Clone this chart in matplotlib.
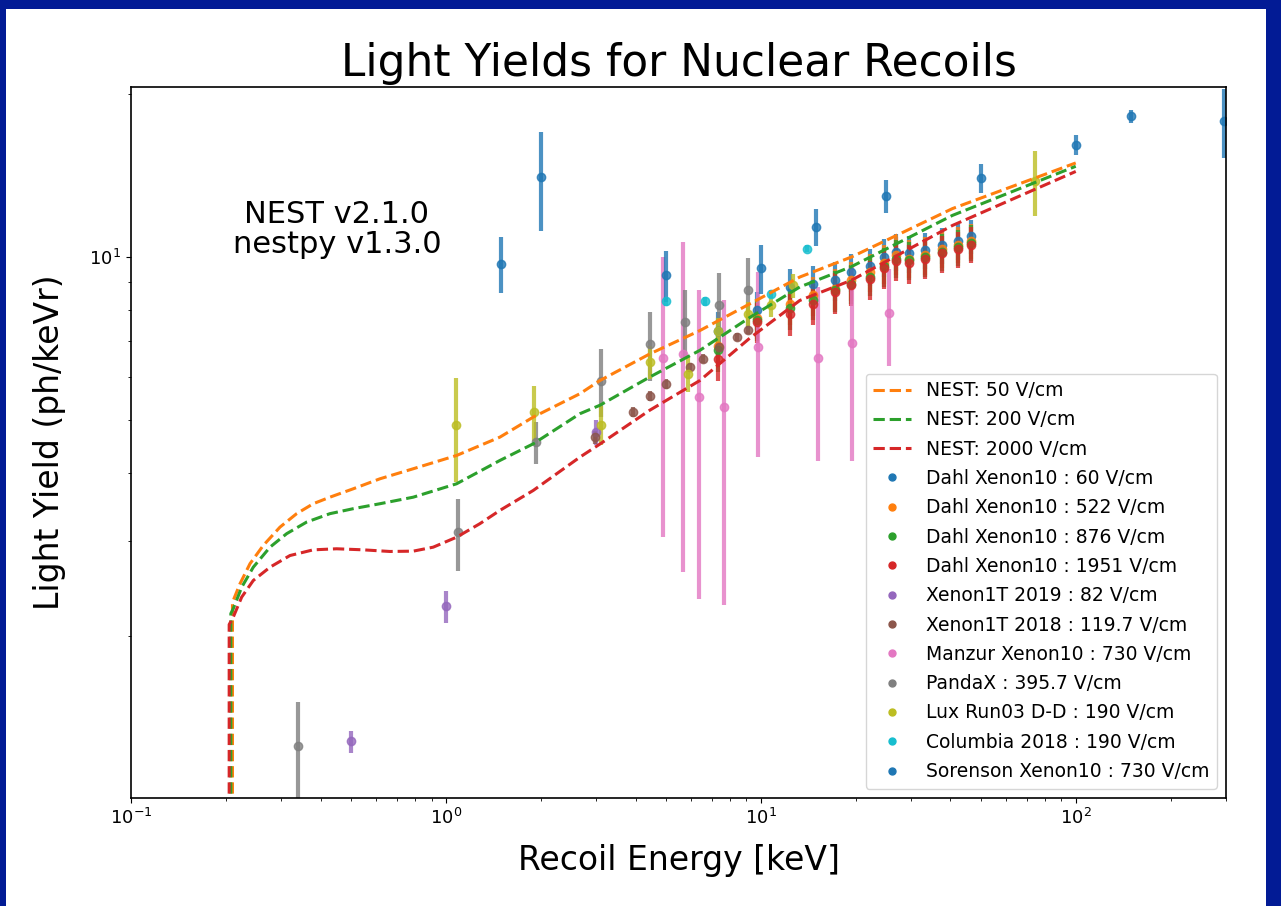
import numpy as np
import matplotlib
matplotlib.use('Agg')
from matplotlib import pyplot as plt
from matplotlib.patches import Rectangle
from matplotlib.lines import Line2D
from matplotlib.ticker import NullFormatter

# NEST model curves
nest50_E = [0.210, 0.210, 0.2112, 0.2218, 0.2387, 0.263, 0.2972, 0.3357, 0.379, 0.4282, 0.5079, 0.6173, 0.7875,
            1.081, 1.484, 1.893, 2.664, 3.083, 4.442, 6.402, 9.228, 13.30, 19.36, 40.6, 100.0]
nest50_Y = [0.5, 2.30, 2.326, 2.496, 2.719, 2.938, 3.176, 3.363, 3.508, 3.607, 3.738, 3.90, 4.07,
            4.306, 4.655, 5.068, 5.598, 5.92, 6.63, 7.32, 8.20, 9.19, 10.0, 12.29, 14.92]
nest200_E = [0.2075, 0.2075, 0.2112, 0.2246, 0.2445, 0.2763, 0.3121, 0.3612, 0.4282, 0.5079, 0.6173, 0.7875,
             1.081, 1.484, 1.893, 2.664, 3.083, 4.442, 6.402, 9.228, 13.30, 19.36, 40.6, 100.0]
nest200_Y = [0.5, 2.20, 2.246, 2.46, 2.679, 2.917, 3.089, 3.245, 3.363, 3.435, 3.508, 3.607,
             3.818, 4.216, 4.524, 5.142, 5.33, 6.01, 6.73, 7.74, 8.81, 9.60, 11.94, 14.71]
nest2000_E = [0.205, 0.205, 0.2112, 0.2246, 0.2445, 0.2763, 0.3197, 0.379, 0.4498, 0.5464, 0.664, 0.7875, 0.9114,
              1.081, 1.282, 1.484, 1.893, 2.664, 3.083, 4.442, 6.402, 9.228, 13.30, 19.36, 40.6, 100.0]
nest2000_Y = [0.5, 2.10, 2.167, 2.359, 2.532, 2.679, 2.815, 2.884, 2.897, 2.884, 2.864, 2.868, 2.917,
              3.043, 3.223, 3.41, 3.711, 4.276, 4.52, 5.22, 5.92, 7.09, 8.32, 9.06, 11.44, 14.39]

# measurements
dahl_E = [7.3, 9.7, 12.4, 14.6, 17.2, 19.3, 22.2, 24.6, 26.8, 29.5, 33.2, 37.5, 42.2, 46.4]
dahl60_Y = [7.32, 7.98, 8.79, 8.94, 9.06, 9.37, 9.61, 9.99, 10.24, 10.16, 10.29, 10.51, 10.69, 10.92]
dahl522_Y = [6.87, 7.71, 8.21, 8.50, 8.75, 9.06, 9.37, 9.74, 10.07, 9.94, 10.07, 10.33, 10.55, 10.73]
dahl876_Y = [6.73, 7.64, 8.04, 8.35, 8.68, 8.94, 9.21, 9.61, 9.94, 9.86, 9.99, 10.24, 10.42, 10.64]
dahl1951_Y = [6.50, 7.58, 7.84, 8.21, 8.61, 8.87, 9.10, 9.53, 9.82, 9.74, 9.90, 10.16, 10.33, 10.55]
dahl_err = [0.6, 0.65, 0.7, 0.7, 0.75, 0.75, 0.75, 0.8, 0.8, 0.8, 0.8, 0.8, 0.8, 0.8]

x1t19_E = [0.5, 1.0, 3.0]
x1t19_Y = [1.278, 2.268, 4.75]
x1t19_err = [0.06, 0.15, 0.25]

x1t18_E = [2.97, 3.94, 4.44, 5.0, 5.94, 6.55, 7.38, 8.4, 9.1]
x1t18_Y = [4.65, 5.18, 5.54, 5.84, 6.27, 6.5, 6.82, 7.12, 7.33]
x1t18_err = [0.12, 0.12, 0.12, 0.12, 0.12, 0.12, 0.12, 0.12, 0.12]

manzur_E = [4.9, 5.67, 6.37, 7.66, 9.83, 15.2, 19.5, 25.6]
manzur_Y = [6.52, 6.64, 5.51, 5.30, 6.82, 6.51, 6.94, 7.9]
manzur_err = [3.48, 4.02, 3.17, 3.02, 2.55, 2.31, 2.74, 1.6]

pandax_E = [0.34, 1.09, 1.93, 3.1, 4.44, 5.75, 7.36, 9.1]
pandax_Y = [1.255, 3.11, 4.56, 5.92, 6.92, 7.59, 8.15, 8.68]
pandax_err = [0.255, 0.47, 0.4, 0.85, 1.0, 1.1, 1.2, 1.3]

lux_E = [1.08, 1.9, 3.1, 4.44, 5.89, 7.3, 9.1, 10.8, 12.66, 74.0]
lux_Y = [4.91, 5.18, 4.91, 6.4, 6.09, 7.32, 7.86, 8.15, 8.87, 13.79]
lux_err = [1.07, 0.6, 0.4, 0.45, 0.45, 0.4, 0.4, 0.4, 0.45, 1.9]

columbia_E = [5.0, 6.64, 10.76, 14.0]
columbia_Y = [8.29, 8.29, 8.54, 10.36]
columbia_err = [0.15, 0.15, 0.15, 0.15]

sorenson_E = [1.5, 2.0, 5.0, 10.0, 15.0, 25.0, 50.0, 100.0, 150.0, 295.0]
sorenson_Y = [9.73, 14.08, 9.25, 9.54, 11.37, 12.96, 13.99, 16.1, 18.19, 17.85]
sorenson_err = [1.15, 2.9, 1.0, 1.0, 0.9, 0.9, 0.85, 0.7, 0.5, 2.6]

nest_curves = [(nest50_E, nest50_Y, 'C1', 'NEST: 50 V/cm'),
               (nest200_E, nest200_Y, 'C2', 'NEST: 200 V/cm'),
               (nest2000_E, nest2000_Y, 'C3', 'NEST: 2000 V/cm')]

datasets = [(dahl_E, dahl60_Y, dahl_err, 'C0', 'Dahl Xenon10 : 60 V/cm'),
            (dahl_E, dahl522_Y, dahl_err, 'C1', 'Dahl Xenon10 : 522 V/cm'),
            (dahl_E, dahl876_Y, dahl_err, 'C2', 'Dahl Xenon10 : 876 V/cm'),
            (dahl_E, dahl1951_Y, dahl_err, 'C3', 'Dahl Xenon10 : 1951 V/cm'),
            (x1t19_E, x1t19_Y, x1t19_err, 'C4', 'Xenon1T 2019 : 82 V/cm'),
            (x1t18_E, x1t18_Y, x1t18_err, 'C5', 'Xenon1T 2018 : 119.7 V/cm'),
            (manzur_E, manzur_Y, manzur_err, 'C6', 'Manzur Xenon10 : 730 V/cm'),
            (pandax_E, pandax_Y, pandax_err, 'C7', 'PandaX : 395.7 V/cm'),
            (lux_E, lux_Y, lux_err, 'C8', 'Lux Run03 D-D : 190 V/cm'),
            (columbia_E, columbia_Y, columbia_err, 'C9', 'Columbia 2018 : 190 V/cm'),
            (sorenson_E, sorenson_Y, sorenson_err, 'C0', 'Sorenson Xenon10 : 730 V/cm')]

W, H = 1281, 906
fig = plt.figure(figsize=(W / 100, H / 100), dpi=100)
fig.patch.set_facecolor('#021b95')
fig.add_artist(Rectangle((6 / W, 0), (1266 - 6) / W, (H - 9) / H,
                         transform=fig.transFigure, facecolor='white',
                         edgecolor='none', zorder=-1))

ax = fig.add_axes([131 / W, (H - 798) / H, (1226 - 131) / W, (798 - 87) / H])

handles = []
for E, Y, c, lab in nest_curves:
    ln, = ax.plot(E, Y, '--', color=c, lw=2.2, zorder=3, label=lab)
    handles.append(ln)

for E, Y, err, c, lab in datasets:
    ax.errorbar(E, Y, yerr=err, fmt='o', color=c, ms=6, elinewidth=3,
                capsize=0, alpha=0.8, zorder=2)
    handles.append(Line2D([], [], marker='o', ls='', color=c, ms=5, label=lab))

ax.set_xscale('log')
ax.set_yscale('log')
ax.set_xlim(0.1, 300)
ax.set_ylim(1.005, 20.6)
ax.yaxis.set_minor_formatter(NullFormatter())
ax.xaxis.set_minor_formatter(NullFormatter())
ax.tick_params(labelsize=13)
for s in ax.spines.values():
    s.set_linewidth(1.2)

ax.set_title('Light Yields for Nuclear Recoils', fontsize=31.6, pad=8)
ax.set_xlabel('Recoil Energy [keV]', fontsize=23.8, labelpad=12)
ax.set_ylabel('Light Yield (ph/keVr)', fontsize=23.8, labelpad=17)
ax.text(0.188, 0.80, 'NEST v2.1.0\nnestpy v1.3.0', transform=ax.transAxes,
        fontsize=22, ha='center', va='center', linespacing=1.05)

ax.legend(handles=handles, loc='lower right', fontsize=13.5, labelspacing=0.55)

fig.savefig('out.png', dpi=100, facecolor=fig.get_facecolor())
